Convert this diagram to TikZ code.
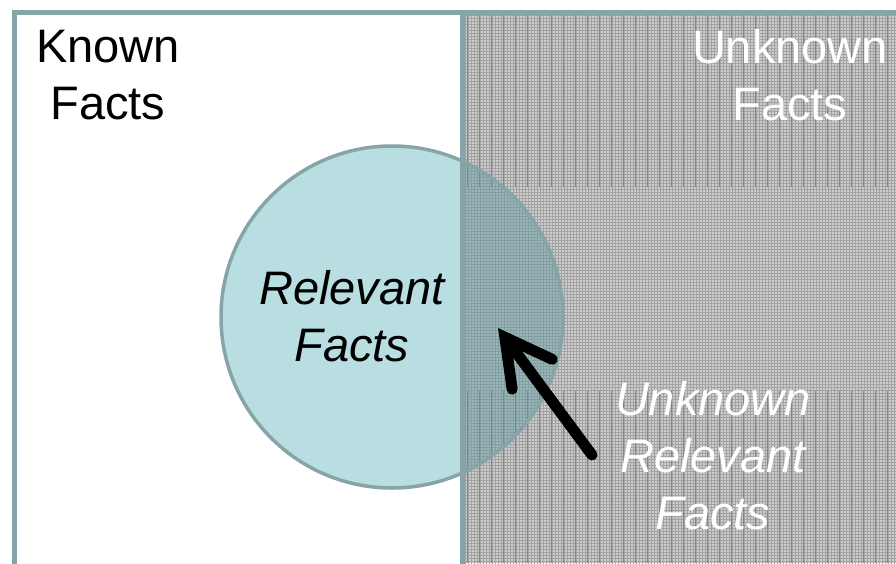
\documentclass[tikz,border=0pt]{standalone}
\usepackage{fontspec}
\setmainfont{Liberation Sans}
\usetikzlibrary{arrows.meta}
\definecolor{framec}{HTML}{87A5A8}
\definecolor{circfill}{HTML}{B8DEE1}
\definecolor{patbase}{HTML}{CDCDCD}
\definecolor{patline}{HTML}{A3A3A3}
\definecolor{patdark}{HTML}{858585}
\definecolor{tint}{HTML}{5E9BA1}
\tikzset{
  frameline/.style={draw=framec,line width=5pt},
  bigtext/.style={font=\fontsize{47}{57}\selectfont,align=center,inner sep=0pt},
  gridline/.style={draw=patline,line width=0.8pt},
  darkline/.style={draw=patdark,line width=1pt},
  bigarrow/.style={draw=black,line width=11pt,line cap=round,-{Straight Barb[length=46pt,width=50pt,line cap=round]}}
}
\begin{document}
\begin{tikzpicture}[x=1pt,y=-1pt]
\useasboundingbox (0,0) rectangle (896,563);
\fill[white] (0,0) rectangle (896,563);
% unknown region pattern
\fill[patbase] (464,14) rectangle (896,563);
\begin{scope}
\clip (464,14) rectangle (896,563);
\draw[gridline] (464,14) grid[step=3pt] (899,566);
\foreach \x in {467,479,...,896} {
  \draw[darkline] (\x,14) -- (\x,187);
  \draw[darkline] (\x,391) -- (\x,563);
}
\end{scope}
% circle
\begin{scope}
\clip (0,0) rectangle (462,563);
\fill[circfill] (392,317) circle[radius=171];
\end{scope}
\begin{scope}
\clip (462,0) rectangle (896,563);
\fill[tint,fill opacity=0.45] (392,317) circle[radius=171];
\end{scope}
\node[circle,minimum size=342pt,draw=framec,line width=3.5pt,inner sep=0pt] (relcirc) at (392,317) {};
% frame
\draw[frameline] (14,565) -- (14,12) -- (898,12);
\draw[frameline] (462,12) -- (462,565);
% texts
\node[bigtext] (known) at (108,75) {Known\\Facts};
\node[bigtext,text=white] (unknown) at (790,75) {Unknown\\Facts};
\node[bigtext,font=\fontsize{47}{57}\selectfont\itshape] (relevant) at (352,316) {Relevant\\Facts};
\node[bigtext,font=\fontsize{47}{57}\selectfont\itshape,text=white] (unkrel) at (713,456) {Unknown\\Relevant\\Facts};
% arrow
\coordinate (tail) at (592,455);
\coordinate (tip) at (498,328);
\draw[bigarrow] (tail) -- (tip);
\end{tikzpicture}
\end{document}
